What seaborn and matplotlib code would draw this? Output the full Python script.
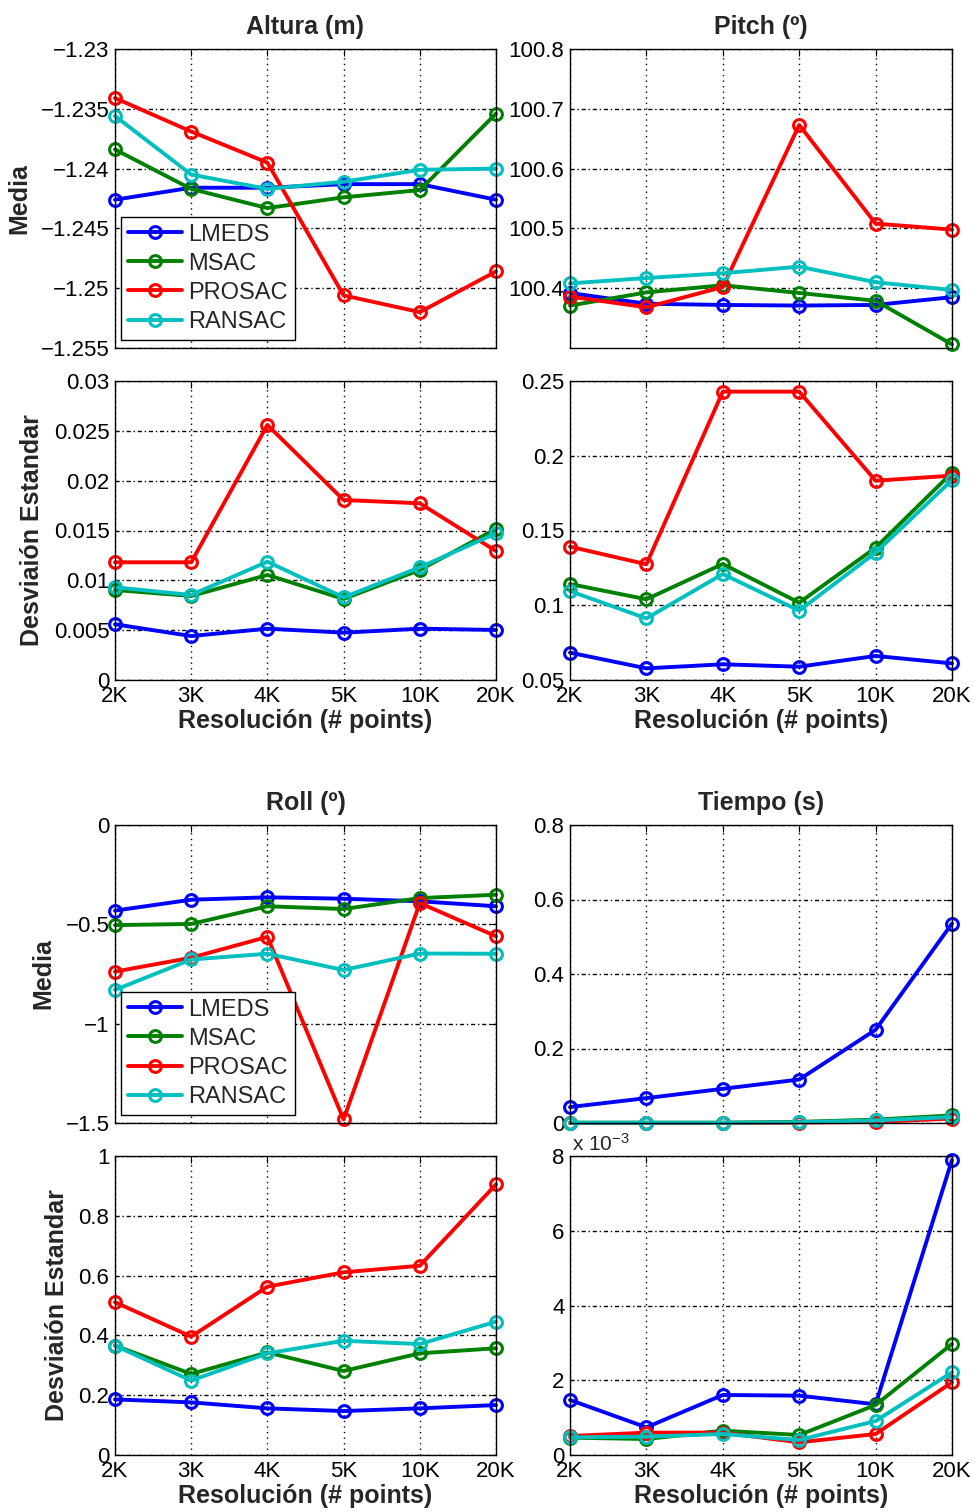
import matplotlib
matplotlib.use("Agg")
import matplotlib.pyplot as plt
import numpy as np
import pandas as pd
import seaborn as sns
from matplotlib.ticker import MultipleLocator, FuncFormatter

resolutions = ["2K", "3K", "4K", "5K", "10K", "20K"]
methods = ["LMEDS", "MSAC", "PROSAC", "RANSAC"]
colors = {"LMEDS": (0, 0, 1), "MSAC": (0, 0.5, 0), "PROSAC": (1, 0, 0), "RANSAC": (0, 0.75, 0.75)}

# Altura (m)
altura_media = {
    "LMEDS": [-1.2426, -1.2416, -1.2416, -1.2413, -1.2413, -1.2426],
    "MSAC": [-1.2384, -1.2417, -1.2433, -1.2424, -1.2418, -1.2354],
    "PROSAC": [-1.2341, -1.2369, -1.2395, -1.2506, -1.2520, -1.2486],
    "RANSAC": [-1.2356, -1.2405, -1.2417, -1.2411, -1.2401, -1.2400],
}
altura_std = {
    "LMEDS": [0.00559, 0.00441, 0.00515, 0.00475, 0.00515, 0.00502],
    "MSAC": [0.00903, 0.00843, 0.01054, 0.00813, 0.01104, 0.01515],
    "PROSAC": [0.01181, 0.01181, 0.02559, 0.01806, 0.01773, 0.01294],
    "RANSAC": [0.00930, 0.00853, 0.01187, 0.00829, 0.01130, 0.01472],
}
# Pitch (º)
pitch_media = {
    "LMEDS": [100.392, 100.374, 100.372, 100.371, 100.372, 100.385],
    "MSAC": [100.371, 100.393, 100.405, 100.392, 100.379, 100.306],
    "PROSAC": [100.386, 100.368, 100.402, 100.673, 100.508, 100.498],
    "RANSAC": [100.408, 100.417, 100.425, 100.436, 100.410, 100.397],
}
pitch_std = {
    "LMEDS": [0.0683, 0.0578, 0.0605, 0.0589, 0.0661, 0.0611],
    "MSAC": [0.1142, 0.1040, 0.1276, 0.1017, 0.1385, 0.1887],
    "PROSAC": [0.1392, 0.1274, 0.2429, 0.2429, 0.1833, 0.1867],
    "RANSAC": [0.1095, 0.0912, 0.1209, 0.0964, 0.1352, 0.1838],
}
# Roll (º)
roll_media = {
    "LMEDS": [-0.431, -0.376, -0.364, -0.371, -0.384, -0.409],
    "MSAC": [-0.504, -0.498, -0.409, -0.423, -0.368, -0.351],
    "PROSAC": [-0.738, -0.668, -0.563, -1.482, -0.393, -0.560],
    "RANSAC": [-0.830, -0.677, -0.648, -0.730, -0.647, -0.648],
}
roll_std = {
    "LMEDS": [0.186, 0.176, 0.156, 0.147, 0.156, 0.167],
    "MSAC": [0.366, 0.271, 0.343, 0.281, 0.340, 0.357],
    "PROSAC": [0.511, 0.396, 0.563, 0.611, 0.633, 0.905],
    "RANSAC": [0.366, 0.249, 0.340, 0.382, 0.371, 0.446],
}
# Tiempo (s)
tiempo_media = {
    "LMEDS": [0.0428, 0.0668, 0.0918, 0.1167, 0.2503, 0.5354],
    "MSAC": [0.001, 0.001, 0.001, 0.003, 0.009, 0.0205],
    "PROSAC": [0.0, 0.0, 0.0, 0.001, 0.003, 0.012],
    "RANSAC": [0.0005, 0.0005, 0.0005, 0.002, 0.007, 0.016],
}
# Tiempo std in units of 1e-3 s
tiempo_std = {
    "LMEDS": [1.472, 0.740, 1.606, 1.588, 1.356, 7.895],
    "MSAC": [0.464, 0.428, 0.651, 0.535, 1.338, 2.971],
    "PROSAC": [0.508, 0.598, 0.598, 0.339, 0.562, 1.945],
    "RANSAC": [0.473, 0.491, 0.562, 0.401, 0.910, 2.212],
}

sns.set_style("white")
plt.rcParams["font.family"] = ["Liberation Sans", "DejaVu Sans"]
plt.rcParams["mathtext.fontset"] = "custom"
plt.rcParams["mathtext.rm"] = "Liberation Sans"
plt.rcParams["mathtext.default"] = "regular"

fig = plt.figure(figsize=(9.78, 15.12), dpi=100)
W, H = 978, 1512


def rect(x0, x1, y0, y1):
    return [x0 / W, 1 - y1 / H, (x1 - x0) / W, (y1 - y0) / H]


cols = [(115, 496), (570, 952)]
rows = [(49, 348), (381, 680), (825, 1123), (1156, 1455)]

fmt = FuncFormatter(lambda v, p: ("%g" % round(v, 6)).replace("-", "\u2212"))


def panel(ax, data, ylim, ystep, show_x=False, title=None, ylabel=None, legend=False, yticks=None):
    x = np.arange(len(resolutions))
    for m in methods:
        sns.lineplot(x=x, y=data[m], ax=ax, color=colors[m], linewidth=2.8, marker="o",
                     markersize=8.5, markerfacecolor="none", markeredgecolor=colors[m],
                     markeredgewidth=2.2, clip_on=False, label=m, errorbar=None, legend=False)
    ax.set_xlim(0, len(resolutions) - 1)
    ax.set_ylim(*ylim)
    ax.set_xticks(x)
    ax.set_xticklabels(resolutions if show_x else [])
    if yticks is not None:
        ax.set_yticks(yticks)
    else:
        ax.yaxis.set_major_locator(MultipleLocator(ystep))
    ax.yaxis.set_major_formatter(fmt)
    ax.tick_params(axis="both", which="both", direction="in", length=5, width=0.8,
                   top=True, right=True, labelsize=16, pad=4, colors="black")
    ax.set_axisbelow(True)
    ax.xaxis.grid(True, color="black", linestyle=(0, (1, 3)), linewidth=1.0)
    ax.yaxis.grid(True, color="black", linestyle=(0, (3, 2, 1, 2)), linewidth=1.0)
    for s in ax.spines.values():
        s.set_color("black")
        s.set_linewidth(1.0)
    if show_x:
        ax.set_xlabel("Resolución (# points)", fontsize=18, fontweight="bold", labelpad=2)
    if title:
        ax.set_title(title, fontsize=18, fontweight="bold", pad=11)
    if ylabel:
        ax.set_ylabel(ylabel, fontsize=18, fontweight="bold", labelpad=7)
    if legend:
        leg = ax.legend(loc="lower left", bbox_to_anchor=(0.016, 0.027), borderaxespad=0,
                        fontsize=17, handlelength=2.3, handletextpad=0.25, labelspacing=0.3,
                        fancybox=False, framealpha=1, edgecolor="black", borderpad=0.3)
        leg.get_frame().set_linewidth(1.0)


ax = fig.add_axes(rect(*cols[0], *rows[0]))
panel(ax, altura_media, (-1.255, -1.23), 0.005, title="Altura (m)", ylabel="Media", legend=True)
ax = fig.add_axes(rect(*cols[0], *rows[1]))
panel(ax, altura_std, (0, 0.03), 0.005, show_x=True, ylabel="Desviaión Estandar")
ax = fig.add_axes(rect(*cols[1], *rows[0]))
panel(ax, pitch_media, (100.3, 100.8), 0.1, title="Pitch (º)",
      yticks=[100.4, 100.5, 100.6, 100.7, 100.8])
ax = fig.add_axes(rect(*cols[1], *rows[1]))
panel(ax, pitch_std, (0.05, 0.25), 0.05, show_x=True)

ax = fig.add_axes(rect(*cols[0], *rows[2]))
panel(ax, roll_media, (-1.5, 0), 0.5, title="Roll (º)", ylabel="Media", legend=True)
ax = fig.add_axes(rect(*cols[0], *rows[3]))
panel(ax, roll_std, (0, 1), 0.2, show_x=True, ylabel="Desviaión Estandar")
ax = fig.add_axes(rect(*cols[1], *rows[2]))
panel(ax, tiempo_media, (0, 0.8), 0.2, title="Tiempo (s)")
ax = fig.add_axes(rect(*cols[1], *rows[3]))
panel(ax, tiempo_std, (0, 8), 2, show_x=True)
ax.text(0.005, 1.004, r"x 10$^{-3}$", transform=ax.transAxes, ha="left", va="bottom", fontsize=15)

fig.savefig("out.png", dpi=100)
